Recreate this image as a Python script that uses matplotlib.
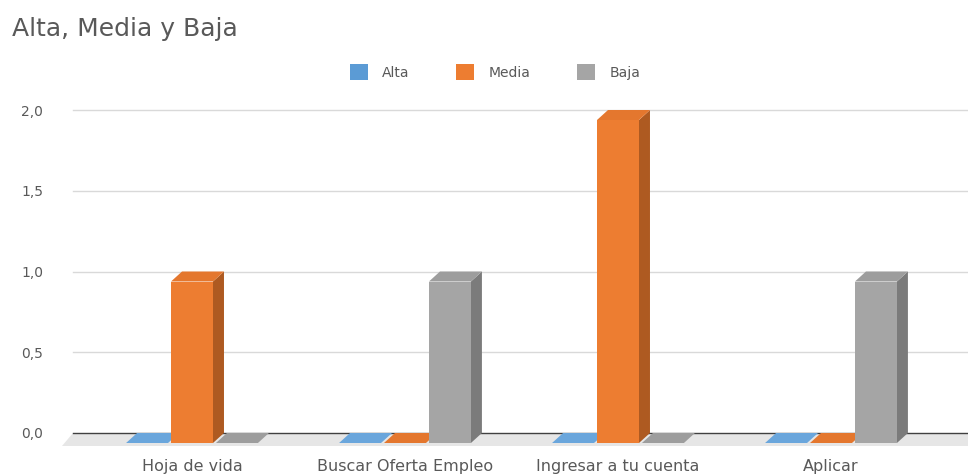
import numpy as np
import matplotlib.pyplot as plt
from matplotlib.patches import Polygon
from matplotlib.ticker import FuncFormatter

categories = ["Hoja de vida", "Buscar Oferta Empleo", "Ingresar a tu cuenta", "Aplicar"]
series_names = ["Alta", "Media", "Baja"]
alta = [0, 0, 0, 0]
media = [1, 0, 2, 0]
baja = [0, 1, 0, 1]

front_cols = ["#5B9BD5", "#ED7D31", "#A5A5A5"]
top_cols = ["#6aa6dc", "#e4772e", "#9d9d9d"]
side_cols = ["#41719c", "#ae5a21", "#7b7b7b"]
txt = "#595959"

plt.rcParams['font.family'] = ['DejaVu Sans']

W, H = 968, 475
fig = plt.figure(figsize=(W/100, H/100), dpi=100)

# axes placed so back wall: y=0 at px 433, y=2 at px 110; category 0 at px 192, step 213
ax_l, ax_r, ax_t, ax_b = 60, 968, 105, 452
ax = fig.add_axes([ax_l/W, (H-ax_b)/H, (ax_r-ax_l)/W, (ax_b-ax_t)/H])
ppy = (433-110)/2.0
ppx = 213.0
ax.set_xlim((ax_l-192)/ppx, (ax_r-192)/ppx)
ax.set_ylim(-(ax_b-433)/ppy, 2+(110-ax_t)/ppy)

ddx = 11/ppx   # depth offset (back wall is to the right and up)
ddy = 10/ppy

x0, x1 = ax.get_xlim()
gx0 = (73-192)/ppx
# floor
ax.add_patch(Polygon([(gx0-ddx, -ddy-3/ppy), (x1, -ddy-3/ppy), (x1, 0), (gx0, 0)],
                     closed=True, fc="#e6e6e6", ec="none", zorder=1))
# gridlines on back wall
yt = [0, 0.5, 1.0, 1.5, 2.0]
for v in yt:
    ax.plot([gx0, x1], [v, v], color="#404040" if v == 0 else "#d9d9d9",
            lw=1.0, zorder=1.5)

data = [alta, media, baja]
bw = 0.197
step = 0.211
x = np.arange(len(categories))
for i in range(len(categories)):
    for s in range(3):
        v = data[s][i]
        c = x[i] + (s-1)*step
        l, r = c - bw/2, c + bw/2
        side = [(r, -ddy), (r+ddx, 0), (r+ddx, v), (r, v-ddy)]
        top = [(l, v-ddy), (r, v-ddy), (r+ddx, v), (l+ddx, v)]
        front = [(l, -ddy), (r, -ddy), (r, v-ddy), (l, v-ddy)]
        ax.add_patch(Polygon(side, closed=True, fc=side_cols[s], ec="none", zorder=2+i+0.1*s))
        ax.add_patch(Polygon(top, closed=True, fc=top_cols[s], ec="none", zorder=2+i+0.1*s+0.01))
        if v > 0:
            ax.add_patch(Polygon(front, closed=True, fc=front_cols[s], ec="none", zorder=2+i+0.1*s+0.02))

for sp in ax.spines.values():
    sp.set_visible(False)
ax.set_yticks(yt)
ax.yaxis.set_major_formatter(FuncFormatter(lambda v, p: ("%.1f" % v).replace(".", ",")))
ax.set_xticks(x)
ax.set_xticklabels(categories)
ax.tick_params(axis='y', length=0, pad=12, labelsize=10, labelcolor=txt)
ax.tick_params(axis='x', length=0, pad=5, labelsize=11.5, labelcolor=txt)

fig.text(12/W, 1-36/H, "Alta, Media y Baja", fontsize=18, color=txt, va="baseline", ha="left")

handles = [plt.Rectangle((0, 0), 1, 1, fc=front_cols[k], ec="none") for k in range(3)]
fig.legend(handles, series_names, loc="center", bbox_to_anchor=(495/W, 1-72/H), ncol=3,
           frameon=False, fontsize=10, labelcolor=txt, handlelength=1.3, handleheight=1.3,
           handletextpad=1.0, columnspacing=3.4)

fig.savefig("out.png", dpi=100)
